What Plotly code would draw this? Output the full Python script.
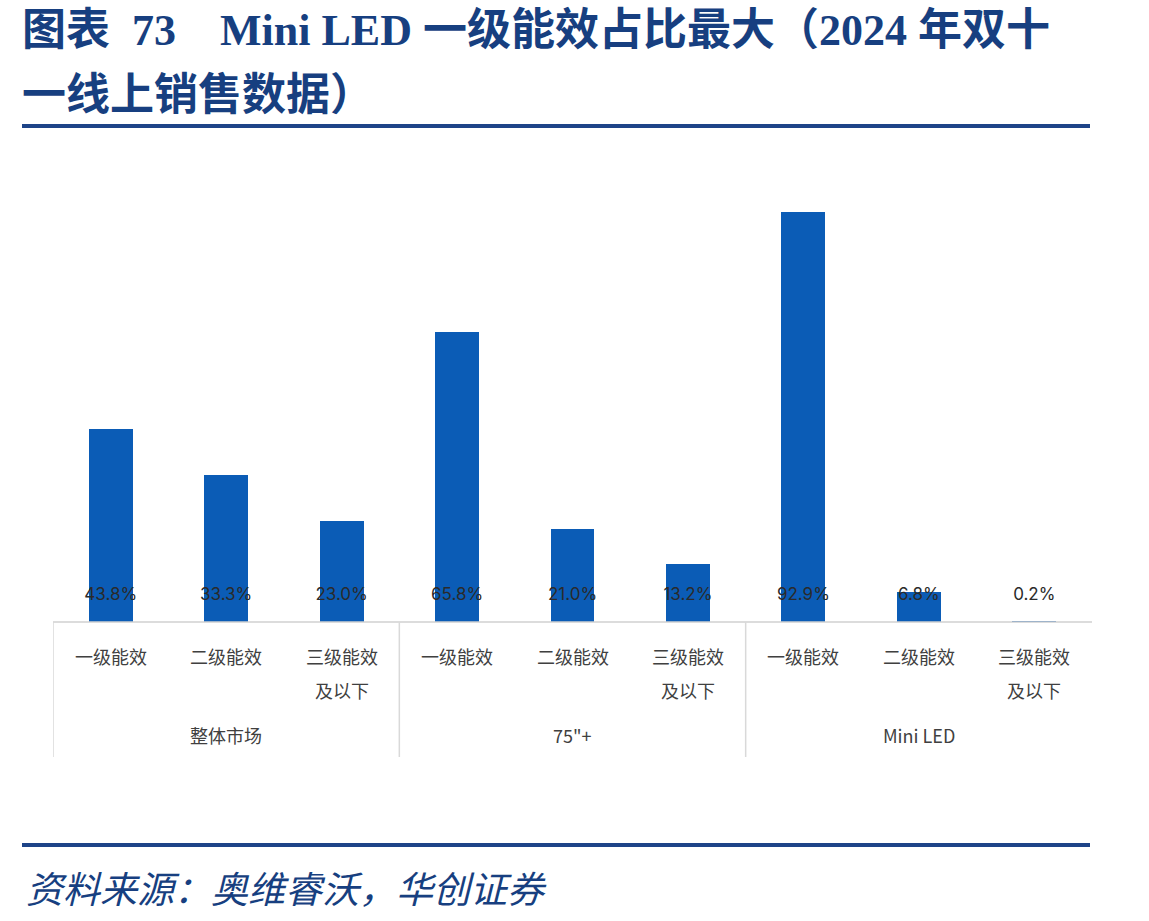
import plotly.graph_objects as go

categories = ["一级能效", "二级能效", "三级能效\n及以下",
              "一级能效", "二级能效", "三级能效\n及以下",
              "一级能效", "二级能效", "三级能效\n及以下"]
groups = ["整体市场", "75\"+", "Mini LED"]
values = [43.8, 33.3, 23.0, 65.8, 21.0, 13.2, 92.9, 6.8, 0.2]
value_labels = ["43.8%", "33.3%", "23.0%", "65.8%", "21.0%", "13.2%", "92.9%", "6.8%", "0.2%"]

W, H = 1149, 921
def px(p): return p / W
def py(p): return 1 - p / H

base_px = 622
top_px = 181  # y=100
x_left, x_right = 53, 1092

xs = list(range(len(values)))
fig = go.Figure()
fig.add_trace(go.Bar(x=xs, y=values, marker=dict(color="#0B5CB6", line=dict(width=0)),
                     width=0.38, hoverinfo="skip"))
fig.add_trace(go.Scatter(x=xs, y=[6.0] * len(values), mode="text", text=value_labels,
                         textfont=dict(family="Inter, Noto Sans, sans-serif", size=17, color="#2A2A2A"),
                         textposition="middle center", hoverinfo="skip"))

TITLE_COLOR = "#173F80"
font_cjk = "Noto Sans CJK SC, Microsoft YaHei, sans-serif"

annotations = []
for i, c in enumerate(categories):
    for j, line in enumerate(c.split("\n")):
        annotations.append(dict(x=i, y=py(656 + 34 * j), xref="x", yref="paper", text=line, showarrow=False,
                                yanchor="middle", xanchor="center",
                                font=dict(family=font_cjk, size=18, color="#404040")))
for g, name in enumerate(groups):
    annotations.append(dict(x=g * 3 + 1, y=py(735), xref="x", yref="paper", text=name, showarrow=False,
                            yanchor="middle", xanchor="center",
                            font=dict(family=font_cjk, size=18, color="#404040")))

title_font = dict(family="Liberation Serif, Noto Sans CJK SC, serif", size=44, color=TITLE_COLOR)
annotations.append(dict(x=px(20), y=py(30), xref="paper", yref="paper", xanchor="left", yanchor="middle",
                        showarrow=False, text="<b>图表  73    Mini LED 一级能效占比最大（2024 年双十</b>",
                        font=title_font))
annotations.append(dict(x=px(20), y=py(95), xref="paper", yref="paper", xanchor="left", yanchor="middle",
                        showarrow=False, text="<b>一线上销售数据）</b>", font=title_font))
annotations.append(dict(x=px(24), y=py(887), xref="paper", yref="paper", xanchor="left", yanchor="middle",
                        showarrow=False, text="<i>资料来源：奥维睿沃，华创证券</i>",
                        font=dict(family="Noto Sans CJK SC, serif", size=37, color=TITLE_COLOR)))

shapes = [
    dict(type="line", xref="paper", yref="paper", x0=px(22), x1=px(1090), y0=py(126), y1=py(126),
         line=dict(color="#1E4488", width=4)),
    dict(type="line", xref="paper", yref="paper", x0=px(22), x1=px(1090), y0=py(845), y1=py(845),
         line=dict(color="#1E4488", width=4)),
    dict(type="line", xref="x", yref="paper", x0=-0.5, x1=8.5, y0=py(base_px), y1=py(base_px),
         line=dict(color="#D0D0D0", width=1.5)),
]
for xb in [-0.5, 2.5, 5.5]:
    shapes.append(dict(type="line", xref="x", yref="paper", x0=xb, x1=xb, y0=py(base_px), y1=py(757),
                       line=dict(color="#D9D9D9", width=1.5)))

fig.update_layout(
    width=W, height=H,
    margin=dict(l=0, r=0, t=0, b=0),
    paper_bgcolor="white", plot_bgcolor="white",
    showlegend=False,
    xaxis=dict(domain=[px(x_left), px(x_right)], range=[-0.5, 8.5], showticklabels=False,
               showgrid=False, zeroline=False, showline=False, ticks="", fixedrange=True),
    yaxis=dict(domain=[py(base_px), py(top_px)], range=[0, 100], showticklabels=False,
               showgrid=False, zeroline=False, showline=False, ticks="", fixedrange=True),
    annotations=annotations,
    shapes=shapes,
    bargap=0,
)

fig.write_html("out.html")
